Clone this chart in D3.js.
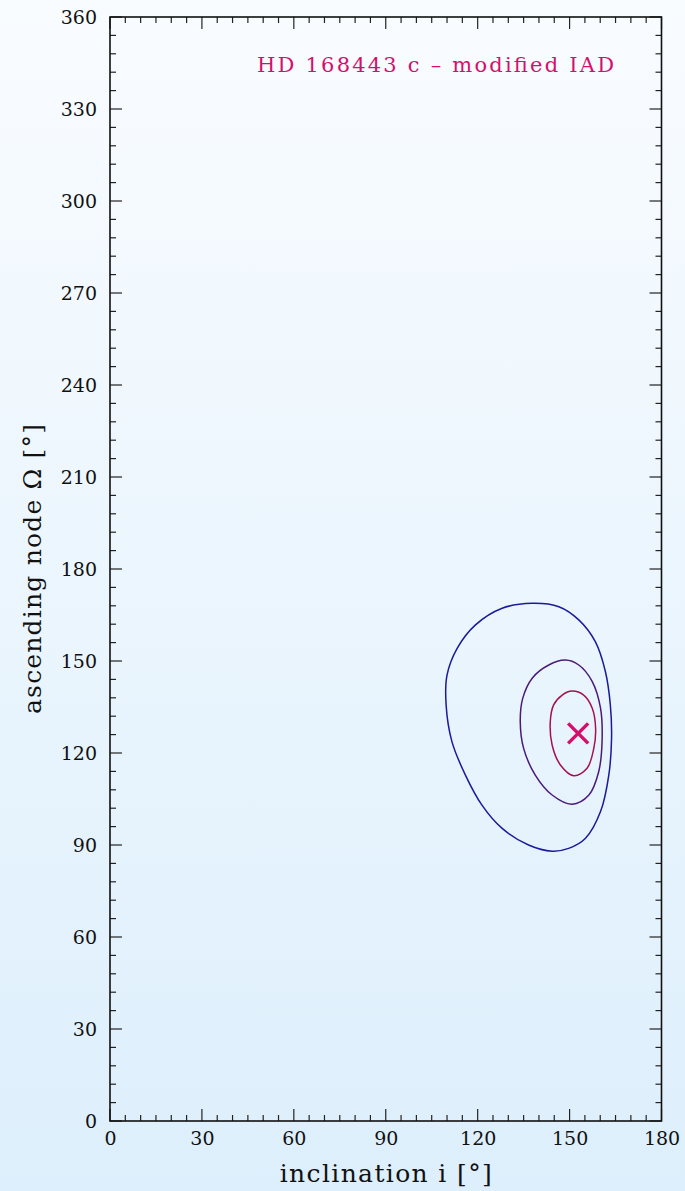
<!DOCTYPE html>
<html><head><meta charset="utf-8">
<script src="https://cdn.jsdelivr.net/npm/d3@7"></script>
<style>html,body{margin:0;padding:0;}svg{display:block;}</style>
</head><body>
<script>
const xTicks = [0,30,60,90,120,150,180];
const yTicks = [0,30,60,90,120,150,180,210,240,270,300,330,360];
const titleText = "HD 168443 c \u2013 modified IAD";
const xLabel = "inclination i [\u00B0]";
const yLabel = "ascending node \u03A9 [\u00B0]";
const bestFit = [152.8, 126.4];
const contourOuter = [[137.8,168.8],[146.5,167.7],[153.0,163.4],[158.4,156.3],[161.7,146.5],[163.3,135.7],[163.7,124.8],[162.8,112.8],[160.1,100.9],[155.2,92.2],[149.7,88.9],[144.3,88.0],[136.6,90.0],[128.0,95.4],[121.4,103.0],[116.0,112.8],[111.6,123.7],[109.7,135.7],[110.0,145.4],[113.3,154.1],[119.2,161.7],[128.0,167.2]];
const contourMiddle = [[148.6,150.3],[143.2,148.7],[137.8,144.4],[134.7,137.8],[133.9,130.2],[135.0,121.5],[138.8,112.8],[144.3,106.3],[150.8,103.3],[156.3,106.3],[159.5,113.9],[160.6,123.7],[160.1,134.6],[157.4,143.3],[153.0,148.7]];
const contourInner = [[150.8,140.2],[147.6,138.9],[144.8,135.7],[143.7,130.2],[144.3,122.6],[147.0,116.1],[151.4,112.6],[155.7,115.0],[157.9,121.5],[158.5,128.0],[157.4,134.6],[154.6,138.9]];
const contourColors = ["#1a1a9a","#4a1a78","#a4124e"];

const W=685,H=1191;
const m={l:110,r:685-661.5,t:17,b:1191-1121};
const svg=d3.select("body").append("svg").attr("width",W).attr("height",H);
const defs=svg.append("defs");
const g=defs.append("linearGradient").attr("id","bg").attr("x1",0).attr("y1",0).attr("x2",0).attr("y2",1);
g.append("stop").attr("offset","0%").attr("stop-color","#f9fcff");
g.append("stop").attr("offset","100%").attr("stop-color","#ddeffc");
svg.append("rect").attr("width",W).attr("height",H).attr("fill","url(#bg)");

const x=d3.scaleLinear().domain([0,180]).range([m.l,W-m.r]);
const y=d3.scaleLinear().domain([0,360]).range([H-m.b,m.t]);
const font="'DejaVu Serif', serif";
const tickCol="#222";

const ax=svg.append("g").attr("stroke",tickCol).attr("stroke-width",1.2);
const xMinor=d3.range(0,181,5), yMinor=d3.range(0,361,6);
xMinor.forEach(v=>{
  const L = v%30===0?12:6;
  ax.append("line").attr("x1",x(v)).attr("x2",x(v)).attr("y1",y(0)).attr("y2",y(0)-L);
  ax.append("line").attr("x1",x(v)).attr("x2",x(v)).attr("y1",y(360)).attr("y2",y(360)+L);
});
yMinor.forEach(v=>{
  const L = v%30===0?12:6;
  ax.append("line").attr("y1",y(v)).attr("y2",y(v)).attr("x1",x(0)).attr("x2",x(0)+L);
  ax.append("line").attr("y1",y(v)).attr("y2",y(v)).attr("x1",x(180)).attr("x2",x(180)-L);
});
svg.append("rect").attr("x",x(0)).attr("y",y(360)).attr("width",x(180)-x(0)).attr("height",y(0)-y(360))
  .attr("fill","none").attr("stroke","#111").attr("stroke-width",1.6);

const xAxis=svg.append("g").attr("transform",`translate(0,${y(0)})`)
  .call(d3.axisBottom(x).tickValues(xTicks).tickSize(0).tickPadding(11).tickFormat(d3.format("d")));
const yAxis=svg.append("g").attr("transform",`translate(${x(0)},0)`)
  .call(d3.axisLeft(y).tickValues(yTicks).tickSize(0).tickPadding(13).tickFormat(d3.format("d")));
[xAxis,yAxis].forEach(a=>{a.select(".domain").remove();
  a.selectAll("text").attr("font-family",font).attr("font-size",19).attr("fill","#111");});
yAxis.selectAll("text").attr("dy","0.36em");

const line=d3.line().x(d=>x(d[0])).y(d=>y(d[1])).curve(d3.curveCatmullRomClosed.alpha(0.5));
[contourOuter,contourMiddle,contourInner].forEach((c,i)=>{
  svg.append("path").attr("d",line(c)).attr("fill","none").attr("stroke",contourColors[i]).attr("stroke-width",1.5);
});

const cx=x(bestFit[0]), cy=y(bestFit[1]), s=10;
svg.append("path").attr("d",`M${cx-s},${cy-s}L${cx+s},${cy+s}M${cx-s},${cy+s}L${cx+s},${cy-s}`)
  .attr("stroke","#d4106c").attr("stroke-width",3.5).attr("fill","none");

svg.append("text").attr("x",257).attr("y",72).attr("font-family",font).attr("font-size",21)
  .attr("fill","#d4106c").attr("textLength",357).attr("lengthAdjust","spacing").text(titleText);

svg.append("text").attr("x",(x(0)+x(180))/2).attr("y",1182).attr("text-anchor","middle")
  .attr("font-family",font).attr("font-size",25).attr("fill","#111").attr("textLength",212).text(xLabel);
svg.append("text").attr("transform",`translate(41,${(y(0)+y(360))/2}) rotate(-90)`).attr("text-anchor","middle")
  .attr("font-family",font).attr("font-size",25).attr("fill","#111").attr("textLength",290).text(yLabel);
</script>
</body></html>
